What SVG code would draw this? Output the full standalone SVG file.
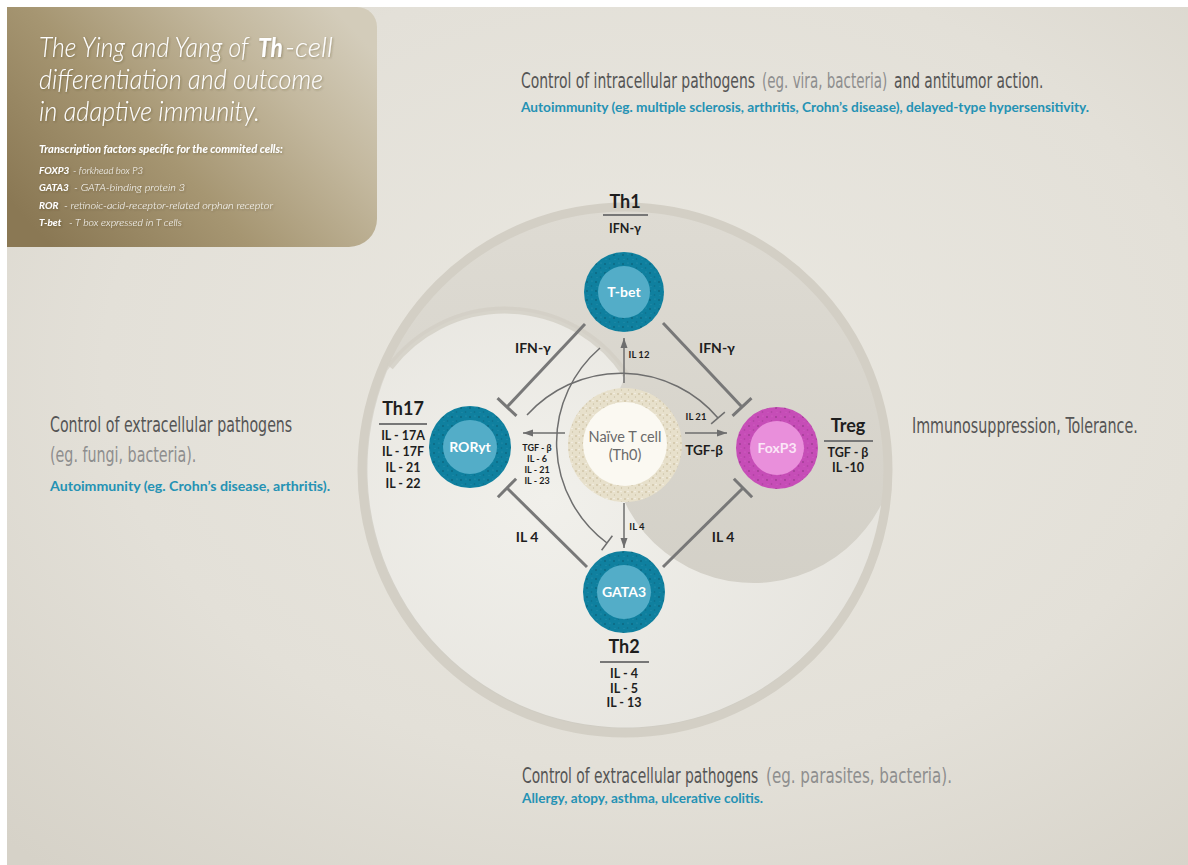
<svg xmlns="http://www.w3.org/2000/svg" width="1188" height="865" viewBox="0 0 1188 865">
<defs>
<radialGradient id="bg" cx="0.55" cy="0.42" r="0.78">
<stop offset="0" stop-color="#eae8e1"/>
<stop offset="0.6" stop-color="#e3e0d8"/>
<stop offset="1" stop-color="#d6d2c8"/>
</radialGradient>
<linearGradient id="titleg" x1="0" y1="0.8" x2="1" y2="0.2">
<stop offset="0" stop-color="#8a7854"/>
<stop offset="0.4" stop-color="#a69672"/>
<stop offset="0.75" stop-color="#c3b89e"/>
<stop offset="1" stop-color="#d3ccba"/>
</linearGradient>
<linearGradient id="darkg" x1="0" y1="0" x2="0" y2="1">
<stop offset="0" stop-color="#dedbd3"/>
<stop offset="1" stop-color="#cfccc3"/>
</linearGradient>
<radialGradient id="lightg" cx="0.35" cy="0.45" r="0.75">
<stop offset="0" stop-color="#f1f0eb"/>
<stop offset="1" stop-color="#e5e3dd"/>
</radialGradient>
<pattern id="speck" width="9" height="9" patternUnits="userSpaceOnUse">
<circle cx="2" cy="3" r="0.9" fill="#000" opacity="0.2"/>
<circle cx="6.5" cy="7" r="0.8" fill="#000" opacity="0.15"/>
<circle cx="7" cy="2" r="0.6" fill="#fff" opacity="0.15"/>
<circle cx="3" cy="7.5" r="0.5" fill="#fff" opacity="0.12"/>
</pattern>
<pattern id="speckb" width="7" height="7" patternUnits="userSpaceOnUse">
<circle cx="2" cy="2" r="0.9" fill="#b9ab85" opacity="0.55"/>
<circle cx="5.5" cy="5" r="0.7" fill="#a99b75" opacity="0.45"/>
<circle cx="5" cy="1.5" r="0.8" fill="#fff" opacity="0.5"/>
</pattern>
<filter id="sh" x="-5%" y="-20%" width="110%" height="140%">
<feDropShadow dx="1" dy="1" stdDeviation="1" flood-color="#3a3020" flood-opacity="0.35"/>
</filter>
<marker id="barT" markerUnits="userSpaceOnUse" markerWidth="6" markerHeight="30" viewBox="-3 -15 6 30" refX="0" refY="0" orient="auto">
<line x1="0" y1="-13" x2="0" y2="13" stroke="#777" stroke-width="3"/>
</marker>
<marker id="bart" markerUnits="userSpaceOnUse" markerWidth="4" markerHeight="22" viewBox="-2 -11 4 22" refX="0" refY="0" orient="auto">
<line x1="0" y1="-9" x2="0" y2="9" stroke="#6e6e6e" stroke-width="1.5"/>
</marker>
<marker id="arr" markerUnits="userSpaceOnUse" markerWidth="10" markerHeight="8" viewBox="0 -4 10 8" refX="10" refY="0" orient="auto">
<path d="M0,-3.5 L10,0 L0,3.5 Z" fill="#6e6e6e"/>
</marker>
<style>
.lbl{font-family:Lato,"Liberation Sans",sans-serif;font-weight:700;fill:#1e1e1e;text-anchor:middle}
.th{font-size:18px}
.cy{font-size:12.5px}
.big{font-size:14px}
.sm{font-size:9.5px}
.node{font-family:Lato,"Liberation Sans",sans-serif;font-weight:700;font-size:14px;fill:#fff;text-anchor:middle}
.ul{stroke:#777;stroke-width:2}
.head{font-family:"Liberation Sans Narrow","DejaVu Sans Condensed",Lato,sans-serif;font-size:21px;fill:#555}
.paren{fill:#8e8e8e}
.blue{font-family:Lato,"Liberation Sans",sans-serif;font-weight:700;font-size:13px;fill:#2592b4}
.tt{font-family:Lato,"Liberation Sans",sans-serif;font-style:italic;fill:#fff}
.thick{stroke:#787878;stroke-width:3;fill:none;marker-end:url(#barT)}
.thin{stroke:#6e6e6e;stroke-width:1.5;fill:none}
</style>
</defs>

<rect width="1188" height="865" fill="#ffffff"/>
<rect x="7" y="7" width="1181" height="858" fill="url(#bg)"/>

<!-- title box -->
<g id="title">
<path d="M7 7 H357 A20 20 0 0 1 377 27 V219 A28 28 0 0 1 349 247 H7 Z" fill="url(#titleg)"/>
<g filter="url(#sh)">
<text class="tt" transform="translate(39 57) scale(0.8 1)" font-size="27" font-weight="300" textLength="262" lengthAdjust="spacingAndGlyphs">The Ying and Yang of</text>
<text class="tt" transform="translate(258 57) scale(0.8 1)" font-size="27" font-weight="700" textLength="31" lengthAdjust="spacingAndGlyphs">Th</text>
<text class="tt" transform="translate(285 57) scale(0.8 1)" font-size="27" font-weight="300" textLength="60" lengthAdjust="spacingAndGlyphs">-cell</text>
<text class="tt" transform="translate(39 89) scale(0.8 1)" font-size="27" font-weight="300" textLength="355" lengthAdjust="spacingAndGlyphs">differentiation and outcome</text>
<text class="tt" transform="translate(39 121) scale(0.8 1)" font-size="27" font-weight="300" textLength="276" lengthAdjust="spacingAndGlyphs">in adaptive immunity.</text>
<text class="tt" transform="translate(39 153) scale(0.8 1)" font-size="10.5" font-weight="700" textLength="305" lengthAdjust="spacingAndGlyphs">Transcription factors specific for the commited cells:</text>
<text class="tt" x="39" y="174" font-size="10" font-weight="700">FOXP3</text>
<text class="tt" x="73" y="174" font-size="10" font-weight="300" textLength="70" lengthAdjust="spacingAndGlyphs">- forkhead box P3</text>
<text class="tt" x="39" y="191" font-size="10" font-weight="700">GATA3</text>
<text class="tt" x="74" y="191" font-size="10" font-weight="300" textLength="111" lengthAdjust="spacingAndGlyphs">- GATA-binding protein 3</text>
<text class="tt" x="39" y="209" font-size="10" font-weight="700">ROR</text>
<text class="tt" x="64" y="209" font-size="10" font-weight="300" textLength="209" lengthAdjust="spacingAndGlyphs">- retinoic-acid-receptor-related orphan receptor</text>
<text class="tt" x="39" y="226" font-size="10" font-weight="700">T-bet</text>
<text class="tt" x="69" y="226" font-size="10" font-weight="300" textLength="113" lengthAdjust="spacingAndGlyphs">- T box expressed in T cells</text>
</g>
</g>

<!-- outcome texts -->
<g id="outcome-th1">
<text class="head" transform="translate(521 88) scale(0.75 1)" textLength="312" lengthAdjust="spacingAndGlyphs">Control of intracellular pathogens</text>
<text class="head paren" transform="translate(762 88) scale(0.75 1)" textLength="167" lengthAdjust="spacingAndGlyphs">(eg. vira, bacteria)</text>
<text class="head" transform="translate(894 88) scale(0.75 1)" textLength="199" lengthAdjust="spacingAndGlyphs">and antitumor action.</text>
<text class="blue" x="521" y="112" textLength="568" lengthAdjust="spacingAndGlyphs">Autoimmunity (eg. multiple sclerosis, arthritis, Crohn’s disease), delayed-type hypersensitivity.</text>
</g>
<g id="outcome-th17">
<text class="head" transform="translate(50 432) scale(0.75 1)" textLength="323" lengthAdjust="spacingAndGlyphs">Control of extracellular pathogens</text>
<text class="head paren" transform="translate(50 462) scale(0.75 1)" textLength="195" lengthAdjust="spacingAndGlyphs">(eg. fungi, bacteria).</text>
<text class="blue" x="50" y="491" textLength="280" lengthAdjust="spacingAndGlyphs">Autoimmunity (eg. Crohn’s disease, arthritis).</text>
</g>
<g id="outcome-treg">
<text class="head" transform="translate(912 433) scale(0.75 1)" textLength="301" lengthAdjust="spacingAndGlyphs">Immunosuppression, Tolerance.</text>
</g>
<g id="outcome-th2">
<text class="head" transform="translate(522 783) scale(0.75 1)" textLength="315" lengthAdjust="spacingAndGlyphs">Control of extracellular pathogens</text>
<text class="head paren" transform="translate(766 783) scale(0.75 1)" textLength="248" lengthAdjust="spacingAndGlyphs">(eg. parasites, bacteria).</text>
<text class="blue" x="522" y="803" textLength="241" lengthAdjust="spacingAndGlyphs">Allergy, atopy, asthma, ulcerative colitis.</text>
</g>

<!-- yin yang background -->
<g id="yinyang">
<circle cx="625" cy="470" r="263" fill="url(#darkg)" stroke="#d3cfc5" stroke-width="9"/>
<path d="M387 371 A145 145 0 0 1 626 375 A143 143 0 0 0 881 505 A258 258 0 1 1 387 371 Z" fill="url(#lightg)"/>
<path d="M390 367 A145 145 0 0 1 626 375" fill="none" stroke="#d2cec4" stroke-width="7" opacity="0.8"/>
</g>

<!-- connectors -->
<g id="connectors">
<path class="thick" d="M585 324 L507 407"/>
<path class="thick" d="M663 323 L742 407"/>
<path class="thick" d="M587 567 L507 488"/>
<path class="thick" d="M663 567 L743 488"/>
<path class="thin" d="M624 383 L624 338" marker-end="url(#arr)"/>
<path class="thin" d="M624 503 L624 548" marker-end="url(#arr)"/>
<path class="thin" d="M565 433 L523 433" marker-end="url(#arr)"/>
<path class="thin" d="M685 433 L727 433" marker-end="url(#arr)"/>
<path class="thin" d="M527 415 A127 127 0 0 1 718 418" marker-end="url(#bart)"/>
<path class="thin" d="M600 348 A125 125 0 0 0 607 543" marker-end="url(#bart)"/>
<text class="lbl big" x="533" y="353">IFN-γ</text>
<text class="lbl big" x="717" y="353">IFN-γ</text>
<text class="lbl big" x="527" y="542">IL 4</text>
<text class="lbl big" x="723" y="542">IL 4</text>
<text class="lbl sm" x="639" y="358">IL 12</text>
<text class="lbl sm" x="637" y="530">IL 4</text>
<text class="lbl sm" x="696" y="420">IL 21</text>
<text class="lbl" x="704" y="455" font-size="13.5">TGF-β</text>
<text class="lbl" x="537" y="451" font-size="9">TGF - β</text>
<text class="lbl" x="537" y="462" font-size="9">IL - 6</text>
<text class="lbl" x="537" y="473" font-size="9">IL - 21</text>
<text class="lbl" x="537" y="484" font-size="9">IL - 23</text>
</g>

<!-- nodes -->
<g id="naive">
<circle cx="625" cy="445" r="57" fill="#e7e0cb"/>
<circle cx="625" cy="445" r="57" fill="url(#speckb)"/>
<circle cx="625" cy="444" r="42" fill="#fbf9f2"/>
<text x="625" y="442" font-family="Lato,'Liberation Sans',sans-serif" font-size="14.5" fill="#6a6a6a" text-anchor="middle">Naïve T cell</text>
<text x="625" y="460" font-family="Lato,'Liberation Sans',sans-serif" font-size="14.5" fill="#6a6a6a" text-anchor="middle">(Th0)</text>
</g>
<g id="th1">
<circle cx="624" cy="292" r="40" fill="#0f809f"/>
<circle cx="624" cy="292" r="40" fill="url(#speck)"/>
<circle cx="624" cy="292" r="26" fill="#53adc8"/>
<text class="node" x="624" y="297">T-bet</text>
<text class="lbl th" x="625" y="208">Th1</text>
<line class="ul" x1="603" y1="215" x2="648" y2="215"/>
<text class="lbl cy" x="625" y="233">IFN-γ</text>
</g>
<g id="th17">
<circle cx="470" cy="447" r="41" fill="#0f809f"/>
<circle cx="470" cy="447" r="41" fill="url(#speck)"/>
<circle cx="470" cy="447" r="27" fill="#53adc8"/>
<text class="node" x="470" y="452">RORyt</text>
<text class="lbl th" x="403" y="415">Th17</text>
<line class="ul" x1="379" y1="424" x2="427" y2="424"/>
<text class="lbl cy" x="403" y="440">IL - 17A</text>
<text class="lbl cy" x="403" y="456">IL - 17F</text>
<text class="lbl cy" x="403" y="472">IL - 21</text>
<text class="lbl cy" x="403" y="488">IL - 22</text>
</g>
<g id="treg">
<circle cx="777" cy="448" r="41" fill="#c64db7"/>
<circle cx="777" cy="448" r="41" fill="url(#speck)"/>
<circle cx="777" cy="448" r="27" fill="#e98fdb"/>
<text class="node" x="777" y="453" style="fill:#fbe6f7">FoxP3</text>
<text class="lbl th" x="848" y="432">Treg</text>
<line class="ul" x1="824" y1="441" x2="873" y2="441"/>
<text class="lbl cy" x="848" y="457">TGF - β</text>
<text class="lbl cy" x="848" y="472">IL -10</text>
</g>
<g id="th2">
<circle cx="624" cy="592" r="41" fill="#0f809f"/>
<circle cx="624" cy="592" r="41" fill="url(#speck)"/>
<circle cx="624" cy="592" r="27" fill="#53adc8"/>
<text class="node" x="624" y="597">GATA3</text>
<text class="lbl th" x="624" y="653">Th2</text>
<line class="ul" x1="600" y1="662" x2="649" y2="662"/>
<text class="lbl cy" x="624" y="678">IL - 4</text>
<text class="lbl cy" x="624" y="693">IL - 5</text>
<text class="lbl cy" x="624" y="707">IL - 13</text>
</g>
</svg>
